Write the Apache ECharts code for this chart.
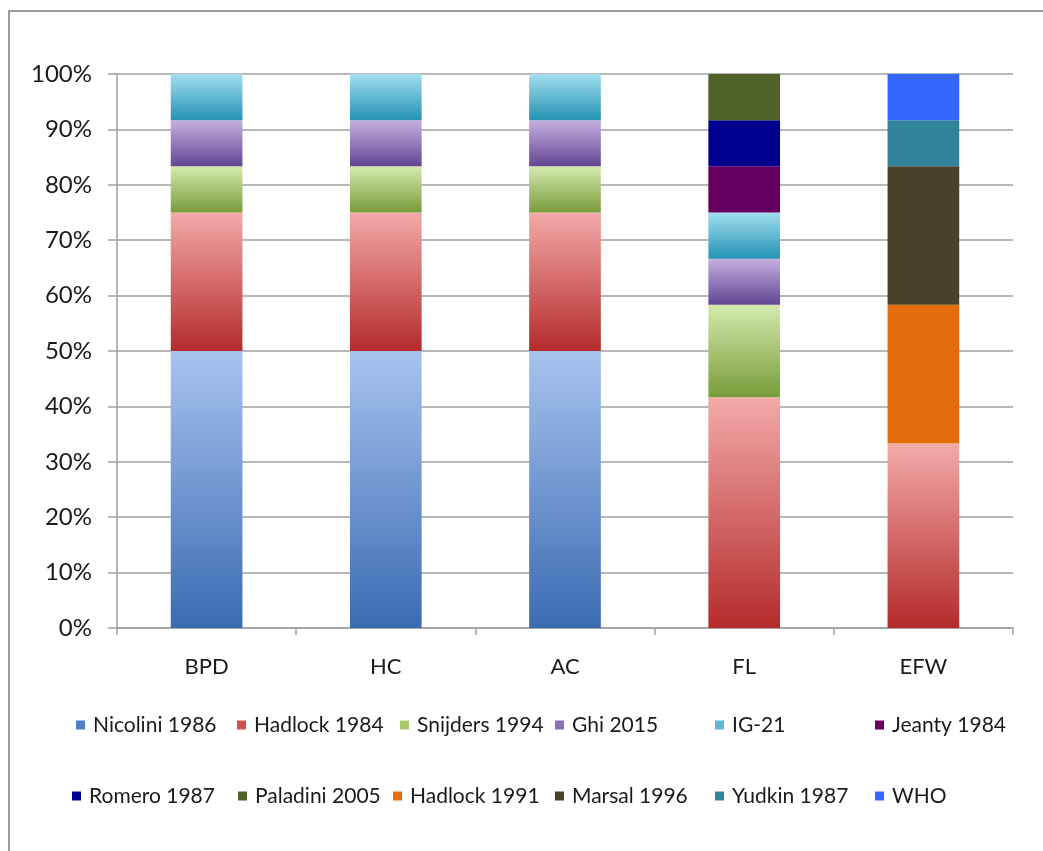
<!DOCTYPE html>
<html>
<head>
<meta charset="utf-8">
<script src="https://cdn.jsdelivr.net/npm/echarts@6/dist/echarts.min.js"></script>
<style>
  html, body { margin: 0; padding: 0; background: #ffffff; }
  #chart { width: 1043px; height: 851px; }
</style>
</head>
<body>
<div id="chart"></div>
<script>
// ---- data ----
const categories = ['BPD', 'HC', 'AC', 'FL', 'EFW'];
const seriesNames = ['Nicolini 1986', 'Hadlock 1984', 'Snijders 1994', 'Ghi 2015', 'IG-21', 'Jeanty 1984',
                     'Romero 1987', 'Paladini 2005', 'Hadlock 1991', 'Marsal 1996', 'Yudkin 1987', 'WHO'];
const nicolini1986 = [50, 50, 50, 0, 0];
const hadlock1984  = [25, 25, 25, 41.67, 33.33];
const snijders1994 = [8.33, 8.33, 8.33, 16.67, 0];
const ghi2015      = [8.33, 8.33, 8.33, 8.33, 0];
const ig21         = [8.34, 8.34, 8.34, 8.33, 0];
const jeanty1984   = [0, 0, 0, 8.33, 0];
const romero1987   = [0, 0, 0, 8.33, 0];
const paladini2005 = [0, 0, 0, 8.34, 0];
const hadlock1991  = [0, 0, 0, 0, 25];
const marsal1996   = [0, 0, 0, 0, 25];
const yudkin1987   = [0, 0, 0, 0, 8.33];
const who          = [0, 0, 0, 0, 8.34];
const yTicks = [0, 10, 20, 30, 40, 50, 60, 70, 80, 90, 100];

const seriesValues = [nicolini1986, hadlock1984, snijders1994, ghi2015, ig21, jeanty1984,
                      romero1987, paladini2005, hadlock1991, marsal1996, yudkin1987, who];

// ---- styles ----
const FONT = 'Lato, "Open Sans", sans-serif';
const TEXT = '#1a1a1a';
const GRIDC = '#a0a0a0';
function grad(top, bottom) {
  return new echarts.graphic.LinearGradient(0, 0, 0, 1, [
    { offset: 0, color: top }, { offset: 1, color: bottom }
  ]);
}
const fills = [
  grad('#a8c3f0', '#3a6bb2'),
  grad('#f2aaa8', '#b42b2b'),
  grad('#d4eaae', '#789c3a'),
  grad('#c5b0e0', '#634593'),
  grad('#a3def0', '#2493b4'),
  '#660060', '#00008f', '#4f6228', '#e46c0a', '#4a4228', '#31849b', '#3366ff'
];
const legendColors = ['#4f7fc4', '#d05250', '#a5c86a', '#8a6fb8', '#5bb8d8',
  '#660060', '#00008f', '#4f6228', '#e46c0a', '#4a4228', '#31849b', '#3366ff'];
// legend layout: [left, top]
const legendPos = [
  [76, 712], [237, 712], [400, 712], [555, 712], [715, 712], [875, 712],
  [72, 783], [238, 783], [393, 783], [555, 783], [715, 783], [875, 783]
];

const chart = echarts.init(document.getElementById('chart'), null, { renderer: 'canvas' });

const series = seriesNames.map((name, i) => ({
  name: name,
  type: 'bar',
  stack: 'total',
  barWidth: '40%',
  data: seriesValues[i],
  itemStyle: { color: fills[i] },
  emphasis: { disabled: true }
}));

const legends = seriesNames.map((name, i) => ({
  left: legendPos[i][0],
  top: legendPos[i][1],
  orient: 'horizontal',
  itemWidth: 9,
  itemHeight: 9,
  icon: 'rect',
  padding: 0,
  data: [{ name: name, itemStyle: { color: legendColors[i] } }],
  textStyle: { fontFamily: FONT, fontSize: 21, color: TEXT, padding: [0, 0, 0, 3], lineHeight: 26 },
  selectedMode: false
}));

chart.setOption({
  animation: false,
  backgroundColor: '#ffffff',
  graphic: [{
    type: 'rect',
    shape: { x: 9, y: 11, width: 1100, height: 1000 },
    style: { fill: 'none', stroke: '#9c9c9c', lineWidth: 2 },
    silent: true
  }],
  grid: { left: 117, right: 30, top: 74, bottom: 223, containLabel: false },
  legend: legends,
  xAxis: {
    type: 'category',
    data: categories,
    axisLine: { lineStyle: { color: GRIDC, width: 1.5 } },
    axisTick: { show: true, length: 7, lineStyle: { color: GRIDC, width: 1.5 } },
    axisLabel: { fontFamily: FONT, fontSize: 22, color: TEXT, margin: 28 }
  },
  yAxis: {
    type: 'value',
    min: yTicks[0],
    max: yTicks[yTicks.length - 1],
    interval: yTicks[1] - yTicks[0],
    axisLine: { show: true, lineStyle: { color: GRIDC, width: 1.5 } },
    axisTick: { show: true, length: 9, lineStyle: { color: GRIDC, width: 1.5 } },
    splitLine: { lineStyle: { color: GRIDC, width: 1.5 } },
    axisLabel: { fontFamily: FONT, fontSize: 24, color: TEXT, margin: 25, formatter: '{value}%' }
  },
  series: series
});
</script>
</body>
</html>
